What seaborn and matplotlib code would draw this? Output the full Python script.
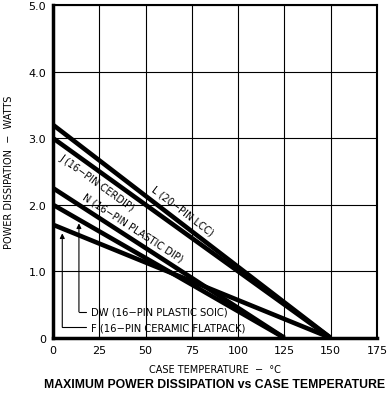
import numpy as np
import pandas as pd
import seaborn as sns
import matplotlib.pyplot as plt

# derating curves (°C, W)
l_temp = [0, 150]
l_power = [3.2, 0.0]
j_temp = [0, 150]
j_power = [3.0, 0.0]
n_temp = [0, 125]
n_power = [2.25, 0.0]
dw_temp = [0, 125]
dw_power = [2.0, 0.0]
f_temp = [0, 150]
f_power = [1.7, 0.0]

x_ticks = [0, 25, 50, 75, 100, 125, 150, 175]
y_ticks = [0, 1, 2, 3, 4, 5]
y_tick_labels = ["0", "1.0", "2.0", "3.0", "4.0", "5.0"]

sns.set_style("white", {"text.color": "black", "axes.labelcolor": "black",
                        "xtick.color": "black", "ytick.color": "black"})
plt.rcParams['font.family'] = ['DejaVu Sans']

fig = plt.figure(figsize=(3.87, 4.02), dpi=100)
ax = fig.add_axes([0.137, 0.157, 0.837, 0.828])

curves = {
    "L": (l_temp, l_power),
    "J": (j_temp, j_power),
    "N": (n_temp, n_power),
    "DW": (dw_temp, dw_power),
    "F": (f_temp, f_power),
}
for name, (t, p) in curves.items():
    df = pd.DataFrame({"temp": t, "power": p})
    sns.lineplot(data=df, x="temp", y="power", ax=ax, color="black",
                 linewidth=3.3, solid_capstyle="butt")

ax.set_xlim(0, 175)
ax.set_ylim(0, 5)
ax.set_xticks(x_ticks)
ax.set_yticks(y_ticks)
ax.set_yticklabels(y_tick_labels)
ax.grid(True, color="black", linewidth=0.8)
ax.tick_params(length=0, labelsize=8, pad=5)
for side in ["left", "bottom"]:
    ax.spines[side].set_linewidth(2.5)
for side in ["top", "right"]:
    ax.spines[side].set_linewidth(1.5)
for s in ax.spines.values():
    s.set_color("black")

ax.set_xlabel("CASE TEMPERATURE  \u2212  \u00b0C", fontsize=7)
ax.xaxis.set_label_coords(0.5, -0.078)
ax.set_ylabel("POWER DISSIPATION  \u2212  WATTS", fontsize=7, labelpad=10)

fig.canvas.draw()


def line_angle(t, p):
    a = ax.transData.transform((t[0], p[0]))
    b = ax.transData.transform((t[1], p[1]))
    return np.degrees(np.arctan2(b[1] - a[1], b[0] - a[0]))


ax.text(23.7, 2.34, "J (16\u2212PIN CERDIP)", fontsize=7,
        rotation=line_angle(j_temp, j_power), ha="center", va="center",
        rotation_mode="anchor")
ax.text(70, 1.91, "L (20\u2212PIN LCC)", fontsize=7,
        rotation=line_angle(l_temp, l_power), ha="center", va="center",
        rotation_mode="anchor")
ax.text(43, 1.67, "N (16\u2212PIN PLASTIC DIP)", fontsize=7,
        rotation=line_angle(n_temp, n_power), ha="center", va="center",
        rotation_mode="anchor")

# pointer callouts for DW and F
ax.annotate("", xy=(14, 1.72), xytext=(14, 0.39),
            arrowprops=dict(arrowstyle="-|>", color="black", lw=0.8,
                            mutation_scale=7, shrinkA=0, shrinkB=0))
ax.plot([14, 18], [0.39, 0.39], color="black", lw=0.8)
ax.text(20.5, 0.39, "DW (16\u2212PIN PLASTIC SOIC)", fontsize=7.2, va="center")

ax.annotate("", xy=(5, 1.57), xytext=(5, 0.16),
            arrowprops=dict(arrowstyle="-|>", color="black", lw=0.8,
                            mutation_scale=7, shrinkA=0, shrinkB=0))
ax.plot([5, 18], [0.16, 0.16], color="black", lw=0.8)
ax.text(20.5, 0.16, "F (16\u2212PIN CERAMIC FLATPACK)", fontsize=7.2, va="center")

fig.text(0.555, 0.042, "MAXIMUM POWER DISSIPATION vs CASE TEMPERATURE",
         ha="center", va="center", fontsize=8.8, fontweight="bold",
         family=["Liberation Sans"])

fig.savefig("out.png", dpi=100)
